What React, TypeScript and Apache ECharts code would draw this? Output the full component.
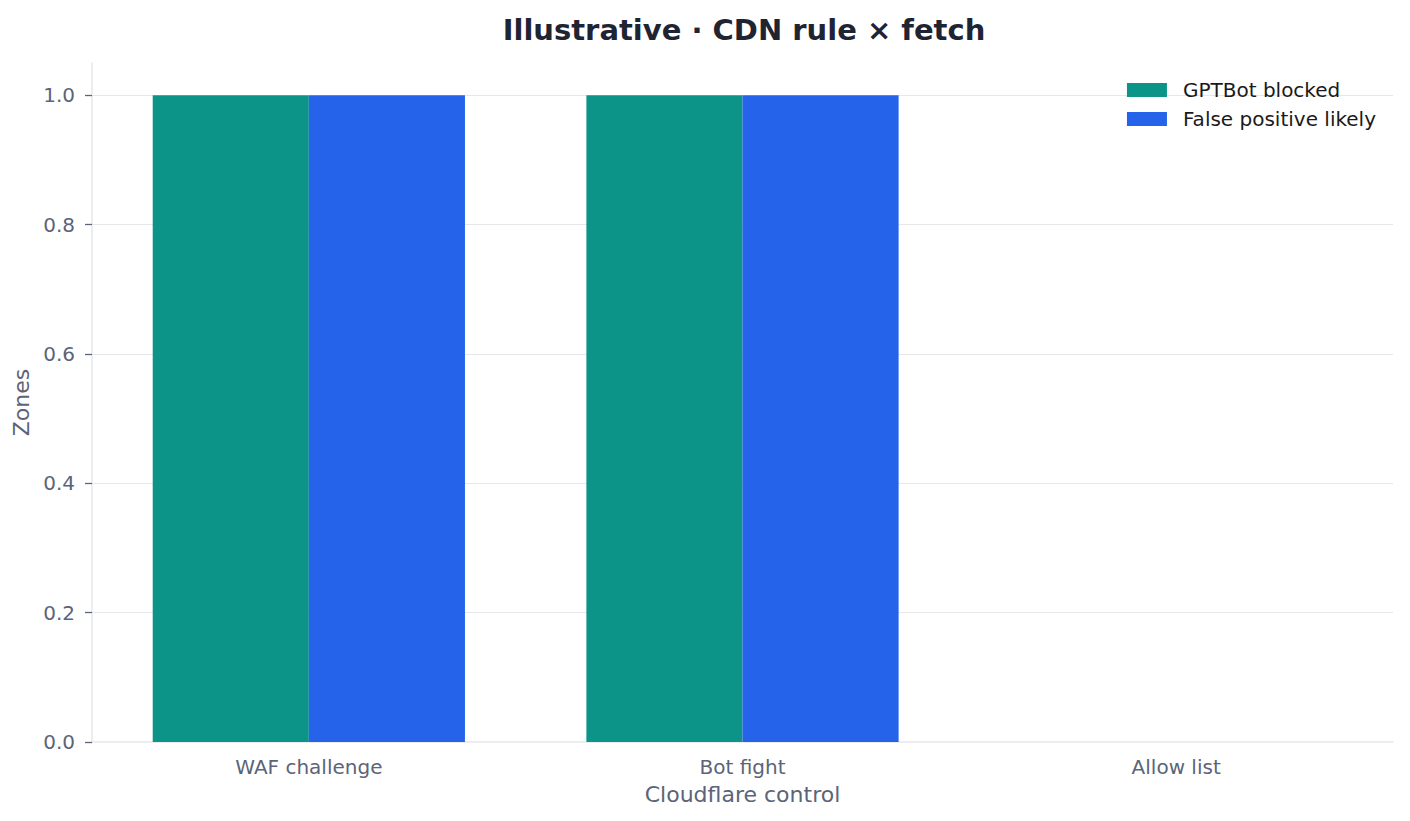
import React, { useEffect, useRef } from "react";
import * as echarts from "echarts";

const categories = ["WAF challenge", "Bot fight", "Allow list"];
const gptbotBlocked = [1, 1, 0];
const falsePositive = [1, 1, 0];
const yTicks = [0, 0.2, 0.4, 0.6, 0.8, 1.0];

const FONT = "DejaVu Sans";
const GRAY = "#5b6478";
const LINE = "#e5e7eb";

export default function App() {
  const ref = useRef<HTMLDivElement>(null);
  useEffect(() => {
    document.body.style.margin = "0";
    const chart = echarts.init(ref.current!, null, { renderer: "svg" });
    chart.setOption({
      animation: false,
      backgroundColor: "#ffffff",
      textStyle: { fontFamily: FONT },
      title: {
        text: "Illustrative · CDN rule × fetch",
        left: 739,
        textAlign: "center",
        top: 10,
        textStyle: { fontFamily: FONT, fontSize: 29, fontWeight: "bold", color: "#1f2433" },
      },
      legend: {
        orient: "vertical",
        right: 34,
        top: 80,
        padding: 0,
        itemWidth: 40,
        itemHeight: 14,
        itemGap: 9,
        icon: "rect",
        textStyle: { fontFamily: FONT, fontSize: 20, color: "#1a1a1a", padding: [0, 0, 0, 11] },
        data: ["GPTBot blocked", "False positive likely"],
      },
      grid: { left: 92, right: 17, top: 63, bottom: 79, containLabel: false },
      xAxis: {
        type: "category",
        data: categories,
        name: "Cloudflare control",
        nameLocation: "middle",
        nameGap: 41,
        nameTextStyle: { fontFamily: FONT, fontSize: 22, color: GRAY },
        axisLine: { lineStyle: { color: LINE, width: 1.5 } },
        axisTick: { alignWithLabel: true, length: 7, lineStyle: { color: GRAY, width: 1.3 } },
        axisLabel: { fontFamily: FONT, fontSize: 20, color: GRAY, margin: 15 },
        splitLine: { show: false },
      },
      yAxis: {
        type: "value",
        min: 0,
        max: 1.05,
        interval: 0.2,
        name: "Zones",
        nameLocation: "middle",
        nameGap: 53,
        nameTextStyle: { fontFamily: FONT, fontSize: 22, color: GRAY },
        axisLine: { show: true, lineStyle: { color: LINE, width: 1.5 } },
        axisTick: { show: true, length: 7, customValues: yTicks, lineStyle: { color: GRAY, width: 1.3 } },
        axisLabel: {
          fontFamily: FONT,
          fontSize: 20,
          color: GRAY,
          margin: 17,
          customValues: yTicks,
          formatter: (v: number) => v.toFixed(1),
        },
        splitLine: { show: false },
      },
      series: [
        {
          name: "GPTBot blocked",
          type: "bar",
          data: gptbotBlocked,
          barGap: "0%",
          barCategoryGap: "28%",
          itemStyle: { color: "#0d9488" },
          z: 3,
          markLine: {
            silent: true,
            symbol: "none",
            z: 1,
            label: { show: false },
            lineStyle: { color: LINE, width: 1.2, type: "solid" },
            data: yTicks.filter((t) => t > 0).map((t) => ({ yAxis: t })),
          },
        },
        {
          name: "False positive likely",
          type: "bar",
          data: falsePositive,
          barGap: "0%",
          barCategoryGap: "28%",
          itemStyle: { color: "#2563eb" },
          z: 3,
        },
      ],
    });
    return () => chart.dispose();
  }, []);
  return <div ref={ref} style={{ width: 1410, height: 821 }} />;
}
